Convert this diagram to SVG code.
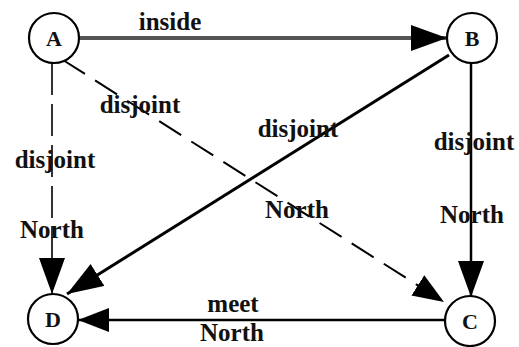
<svg xmlns="http://www.w3.org/2000/svg" width="519" height="347" viewBox="0 0 519 347">
<style>
text{font-family:"Liberation Serif","Times New Roman",serif;font-weight:bold;fill:#111;text-anchor:middle}
.lbl{font-size:25px}
.nd{font-size:22px}
circle{fill:#fff;stroke:#000;stroke-width:2.2}
line{stroke:#000;fill:none}
</style>
<defs>
<marker id="ah" markerUnits="userSpaceOnUse" markerWidth="38" markerHeight="28" refX="36" refY="13" orient="auto">
<path d="M0,0 L36,13 L0,26 z" fill="#000"/>
</marker>
<marker id="ahs" markerUnits="userSpaceOnUse" markerWidth="32" markerHeight="26" refX="31" refY="12" orient="auto">
<path d="M0,0 L31,12 L0,24 z" fill="#000"/>
</marker>
</defs>
<g id="connectors">
<line x1="79" y1="38" x2="447" y2="38" style="stroke:#555;stroke-width:4" marker-end="url(#ah)"/>
<line x1="52" y1="63" x2="52" y2="294" stroke-width="1.6" stroke-dasharray="32,9" marker-end="url(#ah)"/>
<line x1="63" y1="60" x2="444" y2="302" stroke-width="2" stroke-dasharray="26,12" marker-end="url(#ahs)"/>
<line x1="449" y1="55" x2="67" y2="294" stroke-width="3" marker-end="url(#ah)"/>
<line x1="471" y1="63" x2="471" y2="297" stroke-width="2.5" marker-end="url(#ah)"/>
<line x1="445" y1="320" x2="78" y2="320" stroke-width="2.5" marker-end="url(#ahs)"/>
<text class="lbl" x="170" y="30">inside</text>
<text class="lbl" x="140" y="113">disjoint</text>
<text class="lbl" x="55" y="168">disjoint</text>
<text class="lbl" x="298" y="137">disjoint</text>
<text class="lbl" x="474" y="150">disjoint</text>
<text class="lbl" x="52" y="238">North</text>
<text class="lbl" x="297" y="218">North</text>
<text class="lbl" x="472" y="223">North</text>
<text class="lbl" x="233" y="312">meet</text>
<text class="lbl" x="232" y="341">North</text>
</g>
<g id="A"><circle cx="54" cy="38" r="25"/><text class="nd" x="54" y="46">A</text></g>
<g id="B"><circle cx="472" cy="38" r="25"/><text class="nd" x="472" y="46">B</text></g>
<g id="C"><circle cx="470" cy="321" r="25"/><text class="nd" x="470" y="329">C</text></g>
<g id="D"><circle cx="53" cy="319" r="25"/><text class="nd" x="53" y="327">D</text></g>
</svg>
